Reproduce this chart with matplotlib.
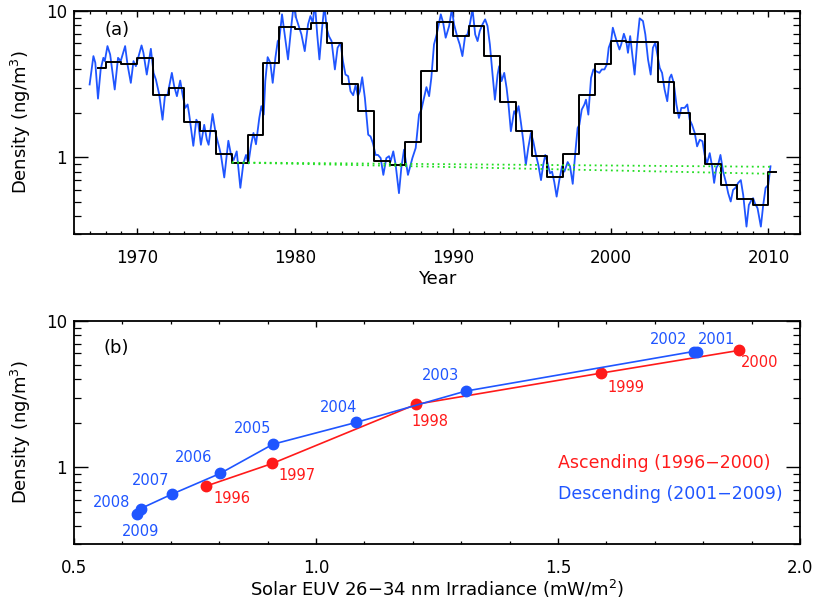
import numpy as np
import matplotlib
matplotlib.use("Agg")
import matplotlib.pyplot as plt
from matplotlib.ticker import FixedLocator, LogLocator, NullFormatter, MultipleLocator

plt.rcParams['font.family'] = ['DejaVu Sans']

BLUE = '#1f55ff'
RED = '#ff1a1a'
GREEN = '#22dd22'

# ---- panel (a): smoothed density ----
blue_yr_1 = [1966.99, 1967.23, 1967.35, 1967.52, 1967.69, 1967.86, 1967.95, 1968.12, 1968.29, 1968.58,
             1968.79, 1968.96, 1969.24, 1969.39, 1969.60, 1969.77, 1969.92, 1970.28, 1970.40, 1970.61,
             1970.87, 1971.04, 1971.19, 1971.40, 1971.61, 1971.76, 1971.93, 1972.20, 1972.35, 1972.52,
             1972.73, 1972.88, 1973.05, 1973.20, 1973.30, 1973.56, 1973.75, 1973.87, 1974.04, 1974.25,
             1974.42, 1974.53, 1974.78, 1974.99, 1975.21, 1975.31, 1975.52, 1975.78, 1975.95, 1976.12,
             1976.31, 1976.54, 1976.73, 1976.90, 1977.05, 1977.22, 1977.37, 1977.53]
blue_den_1 = [3.15, 4.92, 4.43, 2.52, 3.99, 4.79, 4.55, 5.76, 5.05, 2.91,
              4.79, 4.55, 5.76, 4.31, 3.23, 4.55, 4.20, 5.82, 5.18, 3.68,
              5.52, 3.78, 3.40, 2.69, 1.81, 2.62, 2.69, 3.78, 3.06, 2.62,
              3.35, 2.69, 2.18, 2.30, 1.96, 1.20, 1.81, 1.72, 1.22, 1.67,
              1.32, 1.22, 1.98, 1.43, 1.16, 1.04, 0.73, 1.30, 1.04, 0.96,
              1.10, 0.62, 0.91, 1.04, 0.91, 1.22, 1.47, 1.23]

blue_yr_2 = [1977.74, 1977.87, 1978.02, 1978.12, 1978.27, 1978.44, 1978.59, 1978.76, 1978.91, 1979.01,
             1979.18, 1979.39, 1979.56, 1979.78, 1979.92, 1980.07, 1980.24, 1980.41, 1980.62, 1980.83,
             1980.98, 1981.13, 1981.26, 1981.41, 1981.55, 1981.72, 1981.87, 1982.00, 1982.15, 1982.32,
             1982.53, 1982.70, 1982.89, 1983.04, 1983.20, 1983.37, 1983.52, 1983.69, 1983.84, 1983.99,
             1984.11, 1984.26, 1984.43, 1984.64, 1984.79, 1984.94, 1985.11, 1985.26, 1985.43, 1985.60,
             1985.79, 1985.96, 1986.06, 1986.23, 1986.38, 1986.59, 1986.74, 1986.91, 1987.06, 1987.16,
             1987.33, 1987.44, 1987.65, 1987.86, 1988.01, 1988.18, 1988.33, 1988.50, 1988.64, 1988.81,
             1988.98, 1989.13]
blue_den_2 = [1.86, 2.24, 1.96, 3.32, 4.84, 4.43, 3.23, 4.79, 6.23, 6.40,
              9.49, 6.40, 4.67, 8.10, 11.0, 9.00, 7.90, 6.92, 5.32, 8.10,
              9.24, 8.32, 11.5, 6.92, 4.67, 7.69, 11.0, 7.69, 6.74, 6.23,
              3.99, 5.61, 6.07, 4.55, 3.68, 3.59, 2.83, 2.66, 3.11, 2.62,
              2.83, 3.53, 2.55, 1.43, 1.39, 1.25, 1.04, 1.04, 0.99, 0.76,
              0.99, 1.02, 0.94, 1.10, 0.89, 0.57, 0.85, 1.13, 0.89, 0.76,
              0.89, 0.99, 1.16, 1.96, 2.12, 2.55, 3.02, 2.62, 3.49, 5.91,
              6.92, 8.32]

blue_yr_3 = [1989.24, 1989.39, 1989.55, 1989.77, 1989.94, 1990.08, 1990.30, 1990.44, 1990.61, 1990.78,
             1990.93, 1991.08, 1991.25, 1991.42, 1991.57, 1991.71, 1991.88, 1992.05, 1992.20, 1992.35,
             1992.52, 1992.67, 1992.84, 1992.94, 1993.09, 1993.26, 1993.41, 1993.53, 1993.68, 1993.89,
             1994.00, 1994.17, 1994.32, 1994.47, 1994.63, 1994.78, 1994.95, 1995.10, 1995.27, 1995.42,
             1995.59, 1995.73, 1995.86, 1996.01, 1996.16, 1996.29, 1996.43, 1996.58, 1996.75, 1996.92,
             1997.07, 1997.28, 1997.43, 1997.60, 1997.77, 1997.91, 1998.02, 1998.17, 1998.34, 1998.44,
             1998.59, 1998.76, 1998.91, 1999.08, 1999.29, 1999.44, 1999.61, 1999.76, 1999.88, 2000.03,
             2000.14, 2000.35, 2000.56]
blue_den_3 = [9.49, 8.32, 6.57, 7.90, 10.3, 8.10, 6.57, 5.91, 4.92, 6.74,
              6.92, 8.10, 10.3, 6.92, 6.23, 7.29, 8.10, 8.77, 7.90, 5.91,
              3.68, 2.48, 3.68, 4.20, 3.32, 3.78, 2.98, 2.30, 1.51, 2.07,
              1.96, 2.24, 1.72, 1.29, 0.89, 1.16, 1.47, 1.29, 1.04, 0.89,
              0.70, 0.89, 1.04, 0.91, 0.78, 0.80, 0.68, 0.54, 0.70, 0.87,
              0.80, 0.93, 0.87, 0.66, 1.10, 1.59, 1.67, 2.12, 2.30, 2.48,
              1.96, 3.49, 3.99, 3.88, 3.78, 3.99, 3.99, 4.31, 5.61, 6.23,
              7.69, 6.40, 5.46]

blue_yr_4 = [2000.67, 2000.84, 2000.99, 2001.10, 2001.24, 2001.35, 2001.52, 2001.69, 2001.84, 2002.05,
             2002.20, 2002.37, 2002.54, 2002.68, 2002.83, 2002.96, 2003.11, 2003.26, 2003.42, 2003.59,
             2003.74, 2003.85, 2004.00, 2004.17, 2004.33, 2004.48, 2004.69, 2004.86, 2005.01, 2005.16,
             2005.33, 2005.48, 2005.65, 2005.82, 2005.96, 2006.11, 2006.28, 2006.43, 2006.56, 2006.70,
             2006.81, 2006.96, 2007.13, 2007.30, 2007.45, 2007.61, 2007.76, 2007.91, 2008.08, 2008.25,
             2008.40, 2008.61, 2008.76, 2008.93, 2009.03, 2009.14, 2009.31, 2009.52, 2009.67, 2009.82,
             2009.99, 2010.13]
blue_den_4 = [5.91, 6.99, 6.23, 5.18, 6.74, 5.32, 3.68, 6.23, 8.91, 8.54,
              6.92, 4.67, 3.68, 5.61, 6.07, 5.05, 4.09, 3.78, 2.91, 2.42,
              3.49, 3.68, 3.23, 2.30, 1.86, 2.18, 2.18, 2.30, 1.81, 1.67,
              1.47, 1.19, 1.32, 1.29, 1.04, 0.91, 1.07, 0.87, 0.67, 0.85,
              0.89, 1.04, 0.80, 0.68, 0.57, 0.50, 0.60, 0.62, 0.67, 0.70,
              0.555, 0.337, 0.474, 0.513, 0.527, 0.487, 0.45, 0.337, 0.474, 0.62,
              0.65, 0.87]

# annual means (black steps); data run from mid-1967 to mid-2010
annual_year = list(range(1967, 2011))
annual_dens = [4.05, 4.50, 4.36, 4.79, 2.66, 2.98, 1.74, 1.51, 1.05, 0.92,
               1.43, 4.40, 7.77, 7.49, 8.32, 6.07, 3.15, 2.07, 0.94, 0.89,
               1.27, 3.88, 8.41, 6.74, 7.89, 4.92, 2.39, 1.52, 1.03, 0.733,
               1.06, 2.69, 4.38, 6.23, 6.13, 6.13, 3.28, 2.01, 1.44, 0.90,
               0.65, 0.52, 0.474, 0.79]
data_start, data_end = 1967.5, 2010.5

# solar-minimum trend lines (green dotted)
trend_year = [1976.0, 2010.2]
trend_1 = [0.924, 0.863]
trend_2 = [0.924, 0.773]

# ---- panel (b) ----
asc_years = [1996, 1997, 1998, 1999, 2000]
asc_euv = [0.772, 0.910, 1.207, 1.588, 1.873]
asc_dens = [0.744, 1.065, 2.70, 4.40, 6.29]

desc_years = [2001, 2002, 2003, 2004, 2005, 2006, 2007, 2008, 2009]
desc_euv = [1.787, 1.780, 1.309, 1.083, 0.911, 0.802, 0.702, 0.638, 0.631]
desc_dens = [6.13, 6.19, 3.32, 2.03, 1.44, 0.91, 0.656, 0.524, 0.479]

# label offsets in points
label_off = {1996: (19, -9), 1997: (18, -9), 1998: (10, -12.5), 1999: (18, -10), 2000: (15.5, -9),
             2001: (14, 9), 2002: (-18, 8.5), 2003: (-18, 11.5), 2004: (-13, 11), 2005: (-15, 11),
             2006: (-19, 11.5), 2007: (-15.5, 10), 2008: (-21, 4.5), 2009: (2, -12.5)}


def style_axes(ax):
    ax.set_yscale('log')
    ax.set_ylim(0.3, 10)
    ax.yaxis.set_major_locator(FixedLocator([1, 10]))
    ax.set_yticklabels(['1', '10'])
    ax.yaxis.set_minor_locator(LogLocator(base=10, subs=np.arange(2, 10)))
    ax.yaxis.set_minor_formatter(NullFormatter())
    ax.tick_params(which='both', direction='in', top=True, right=True, labelsize=12, color='black')
    ax.tick_params(axis='y', which='major', length=10.3, width=1.0, pad=5)
    ax.tick_params(axis='y', which='minor', length=5, width=0.9)
    ax.tick_params(axis='x', which='major', length=4.5, width=1.0, pad=10.5)
    ax.tick_params(axis='x', which='minor', length=2.3, width=0.9)
    for s in ax.spines.values():
        s.set_linewidth(1.3)
    ax.set_ylabel('Density (ng/m$^3$)', fontsize=13)
    ax.yaxis.set_label_coords(-0.056, 0.5)


fig = plt.figure(figsize=(8.14, 5.99), dpi=100)
ax1 = fig.add_axes([74 / 814, 1 - 234 / 599, 726 / 814, 223 / 599])
ax2 = fig.add_axes([74 / 814, 1 - 544 / 599, 726 / 814, 223 / 599])

# panel (a)
blue_yr = blue_yr_1 + blue_yr_2 + blue_yr_3 + blue_yr_4
blue_den = blue_den_1 + blue_den_2 + blue_den_3 + blue_den_4
ax1.plot(blue_yr, blue_den, color=BLUE, lw=1.3)

edges = [max(y, data_start) for y in annual_year] + [data_end]
ax1.step(edges, annual_dens + [annual_dens[-1]], where='post', color='black', lw=1.4)

ax1.plot(trend_year, trend_1, color=GREEN, lw=1.3, ls=(0, (1, 2)))
ax1.plot(trend_year, trend_2, color=GREEN, lw=1.3, ls=(0, (1, 2)))

ax1.set_xlim(1966, 2012)
ax1.xaxis.set_major_locator(MultipleLocator(10))
ax1.xaxis.set_minor_locator(MultipleLocator(1))
style_axes(ax1)
ax1.set_xlabel('Year', fontsize=13)
ax1.xaxis.set_label_coords(0.5, -0.162)
ax1.text(0.06, 0.917, '(a)', transform=ax1.transAxes, fontsize=13, ha='center', va='center')

# panel (b)
ax2.plot(asc_euv, asc_dens, color=RED, lw=1.2, marker='o', ms=7.5, zorder=3)
ax2.plot(desc_euv, desc_dens, color=BLUE, lw=1.2, marker='o', ms=7.5, zorder=3)
for yr, x, y in zip(asc_years, asc_euv, asc_dens):
    ax2.annotate(str(yr), (x, y), xytext=label_off[yr], textcoords='offset points',
                 ha='center', va='center', color=RED, fontsize=10.5)
for yr, x, y in zip(desc_years, desc_euv, desc_dens):
    ax2.annotate(str(yr), (x, y), xytext=label_off[yr], textcoords='offset points',
                 ha='center', va='center', color=BLUE, fontsize=10.5)

ax2.text(0.667, 0.362, 'Ascending (1996\u22122000)', transform=ax2.transAxes, color=RED,
         fontsize=12.5, ha='left', va='center')
ax2.text(0.667, 0.223, 'Descending (2001\u22122009)', transform=ax2.transAxes, color=BLUE,
         fontsize=12.5, ha='left', va='center')

ax2.set_xlim(0.5, 2.0)
ax2.xaxis.set_major_locator(FixedLocator([0.5, 1.0, 1.5, 2.0]))
ax2.set_xticklabels(['0.5', '1.0', '1.5', '2.0'])
ax2.xaxis.set_minor_locator(MultipleLocator(0.1))
style_axes(ax2)
ax2.set_xlabel('Solar EUV 26\u221234 nm Irradiance (mW/m$^2$)', fontsize=13)
ax2.xaxis.set_label_coords(0.5, -0.15)
ax2.text(0.0585, 0.881, '(b)', transform=ax2.transAxes, fontsize=13, ha='center', va='center')

fig.savefig('out.png', dpi=100)
